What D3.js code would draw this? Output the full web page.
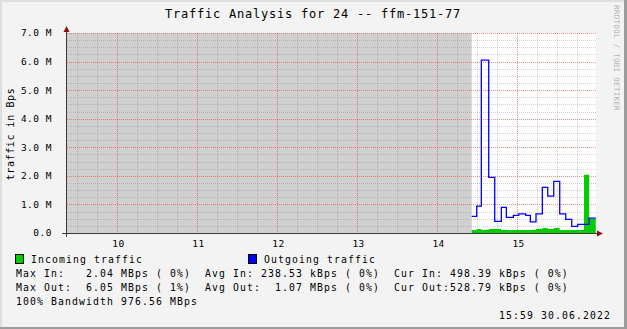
<!DOCTYPE html>
<html>
<head>
<meta charset="utf-8">
<script src="https://cdn.jsdelivr.net/npm/d3@7"></script>
<style>
body { margin: 0; background: #f3f3f3; }
svg { display: block; }
text { font-family: "DejaVu Sans Mono", monospace; white-space: pre; }
</style>
</head>
<body>
<svg id="chart" width="627" height="329"></svg>
<script>
// hours on the time axis, y axis ticks (MBps)
var hourTicks = [10, 11, 12, 13, 14, 15];
var yTicks = [0, 1, 2, 3, 4, 5, 6, 7];
var yTickLabels = ["0.0", "1.0 M", "2.0 M", "3.0 M", "4.0 M", "5.0 M", "6.0 M", "7.0 M"];

var timeStart = "09:22:00", timeEnd = "15:59:00";

// sample start times, last entry is end of last sample
var sampleTimes = ["14:25:48", "14:29:33", "14:33:00", "14:38:33", "14:43:03", "14:48:00", "14:51:45",
  "14:57:00", "15:01:03", "15:06:18", "15:09:45", "15:14:00", "15:18:45", "15:22:48", "15:27:18",
  "15:31:48", "15:36:18", "15:40:48", "15:45:18", "15:50:00", "15:53:48", "15:58:48"];

// MBps
var incoming = [0.105, 0.14, 0.105, 0.14, 0.14, 0.105, 0.105, 0.105, 0.105, 0.105, 0.105,
  0.14, 0.175, 0.14, 0.175, 0.105, 0.105, 0.105, 0.105, 2.04, 0.50];
var outgoing = [0.585, 0.94, 6.05, 1.95, 0.41, 0.90, 0.55, 0.62, 0.67, 0.62, 0.39,
  0.67, 1.60, 1.29, 1.81, 0.67, 0.48, 0.235, 0.30, 0.30, 0.52];

var title = "Traffic Analysis for 24 -- ffm-151-77";
var legendNames = ["Incoming traffic", "Outgoing traffic"];
var legendRows = [
  "Max In:   2.04 MBps ( 0%)  Avg In: 238.53 kBps ( 0%)  Cur In: 498.39 kBps ( 0%)",
  "Max Out:  6.05 MBps ( 1%)  Avg Out:  1.07 MBps ( 0%)  Cur Out:528.79 kBps ( 0%)",
  "100% Bandwidth 976.56 MBps"
];
var stamp = "15:59 30.06.2022";

function hours(s) {
  var p = s.split(":");
  return +p[0] + p[1] / 60 + (p[2] || 0) / 3600;
}

var svg = d3.select("#chart");
var W = 627, H = 329;

// frame
svg.append("rect").attr("width", W).attr("height", H).attr("fill", "#f3f3f3");
svg.append("rect").attr("x", 0).attr("y", 0).attr("width", W).attr("height", 2).attr("fill", "#dedede");
svg.append("rect").attr("x", 0).attr("y", 0).attr("width", 2).attr("height", H).attr("fill", "#dedede");
svg.append("rect").attr("x", 624).attr("y", 0).attr("width", 3).attr("height", H).attr("fill", "#9c9c9c");
svg.append("rect").attr("x", 0).attr("y", 327).attr("width", W).attr("height", 2).attr("fill", "#9c9c9c");

var x = d3.scaleLinear().domain([hours(timeStart), hours(timeEnd)]).range([66.6, 596]);
var y = d3.scaleLinear().domain([0, 7]).range([233, 33]);
var plotL = 67, plotR = 596, plotT = 33, plotB = 233;

function px(v) { return Math.round(v) + 0.5; }

// canvas
svg.append("rect").attr("x", plotL).attr("y", plotT).attr("width", plotR - plotL).attr("height", plotB - plotT)
  .attr("fill", "#ffffff");

// unknown data
svg.append("rect").attr("x", plotL).attr("y", plotT)
  .attr("width", x(hours(sampleTimes[0])) - plotL).attr("height", plotB - plotT)
  .attr("fill", "#d0d0d0");

// grid
var g = svg.append("g");
var minorY = d3.range(0.25, 7.001, 0.25).filter(function(d) { return Math.abs(d - Math.round(d)) > 0.01; });
var minorX = d3.range(9.5, 16, 0.25).filter(function(d) { return Math.abs(d - Math.round(d)) > 0.01 && x(d) < plotR; });
var minorColor = "rgba(130,130,130,0.35)", majorColor = "rgba(235,50,50,0.55)";

g.selectAll(".hmin").data(minorY).enter().append("line")
  .attr("x1", plotL).attr("x2", plotR)
  .attr("y1", function(d) { return px(y(d)); }).attr("y2", function(d) { return px(y(d)); })
  .attr("stroke", minorColor).attr("stroke-dasharray", "1,1");
g.selectAll(".vmin").data(minorX).enter().append("line")
  .attr("y1", plotT).attr("y2", plotB)
  .attr("x1", function(d) { return px(x(d)); }).attr("x2", function(d) { return px(x(d)); })
  .attr("stroke", minorColor).attr("stroke-dasharray", "1,1");
g.selectAll(".hmaj").data(yTicks.slice(1)).enter().append("line")
  .attr("x1", plotL).attr("x2", plotR)
  .attr("y1", function(d) { return px(y(d)); }).attr("y2", function(d) { return px(y(d)); })
  .attr("stroke", majorColor).attr("stroke-dasharray", "1,1");
g.selectAll(".vmaj").data(hourTicks).enter().append("line")
  .attr("y1", plotT).attr("y2", plotB)
  .attr("x1", function(d) { return px(x(d)); }).attr("x2", function(d) { return px(x(d)); })
  .attr("stroke", majorColor).attr("stroke-dasharray", "1,1");

// data
var inPts = incoming.map(function(v, i) { return [hours(sampleTimes[i]), v]; });
inPts.push([hours(sampleTimes[sampleTimes.length - 1]), incoming[incoming.length - 1]]);
var outPts = outgoing.map(function(v, i) { return [hours(sampleTimes[i]), v]; });
outPts.push([hours(sampleTimes[sampleTimes.length - 1]), outgoing[outgoing.length - 1]]);

svg.append("path").datum(inPts)
  .attr("fill", "#00cc00")
  .attr("d", d3.area().curve(d3.curveStepAfter)
    .x(function(d) { return x(d[0]); }).y0(y(0)).y1(function(d) { return y(d[1]); }));

svg.append("path").datum(outPts)
  .attr("fill", "none").attr("stroke", "#0000ff").attr("stroke-width", 1.3)
  .attr("d", d3.line().curve(d3.curveStepAfter)
    .x(function(d) { return x(d[0]); }).y(function(d) { return y(d[1]); }));

// axes
svg.append("line").attr("x1", 62).attr("x2", 598).attr("y1", 233.5).attr("y2", 233.5).attr("stroke", "#3a3a3a");
svg.append("line").attr("x1", 66.5).attr("x2", 66.5).attr("y1", 237).attr("y2", 31).attr("stroke", "#3a3a3a");
svg.append("path").attr("d", "M66.5,26 L63.5,32 L69.5,32 Z").attr("fill", "#8b1010");
svg.append("path").attr("d", "M603,233.5 L597,230.5 L597,236.5 Z").attr("fill", "#8b1010");

// tick labels
svg.selectAll(".ylab").data(yTicks).enter().append("text")
  .attr("x", 52).attr("y", function(d) { return y(d) + 3.4; })
  .attr("text-anchor", "end").attr("font-size", 9.5).attr("letter-spacing", 0.5).attr("fill", "#000")
  .text(function(d, i) { return yTickLabels[i]; });
svg.selectAll(".xlab").data(hourTicks).enter().append("text")
  .attr("x", function(d) { return x(d) + 1.3; }).attr("y", 246.5)
  .attr("text-anchor", "middle").attr("font-size", 9.5).attr("letter-spacing", 0.5).attr("fill", "#000")
  .text(function(d) { return d; });

// titles
svg.append("text").attr("x", 313).attr("y", 18).attr("text-anchor", "middle")
  .attr("font-size", 12).attr("letter-spacing", 0.78).attr("fill", "#000").text(title);
svg.append("text").attr("transform", "translate(14,134) rotate(-90)").attr("text-anchor", "middle")
  .attr("font-size", 10).attr("letter-spacing", 0.6).attr("fill", "#000").text("traffic in Bps");
svg.append("text").attr("transform", "translate(613.5,5) rotate(90)")
  .attr("font-size", 7.5).attr("letter-spacing", 0.3).attr("fill", "#b4b4b4").text("RRDTOOL / TOBI OETIKER");

// legend
var legendX = [15.5, 248.5], legendColors = ["#00cc00", "#0000ff"];
legendNames.forEach(function(n, i) {
  svg.append("rect").attr("x", legendX[i]).attr("y", 254.5).attr("width", 8).attr("height", 9)
    .attr("fill", legendColors[i]).attr("stroke", "#000").attr("stroke-width", 1);
  svg.append("text").attr("x", legendX[i] + 15.5).attr("y", 262.5)
    .attr("font-size", 9.8).attr("letter-spacing", 1.1).attr("fill", "#000").text(n);
});
legendRows.forEach(function(r, i) {
  svg.append("text").attr("x", 16).attr("y", 276.5 + i * 14)
    .attr("font-size", 9.8).attr("letter-spacing", 1.1).attr("fill", "#000").text(r);
});
svg.append("text").attr("x", 611).attr("y", 318.5).attr("text-anchor", "end")
  .attr("font-size", 9.8).attr("letter-spacing", 1.1).attr("fill", "#000").text(stamp);
</script>
</body>
</html>
